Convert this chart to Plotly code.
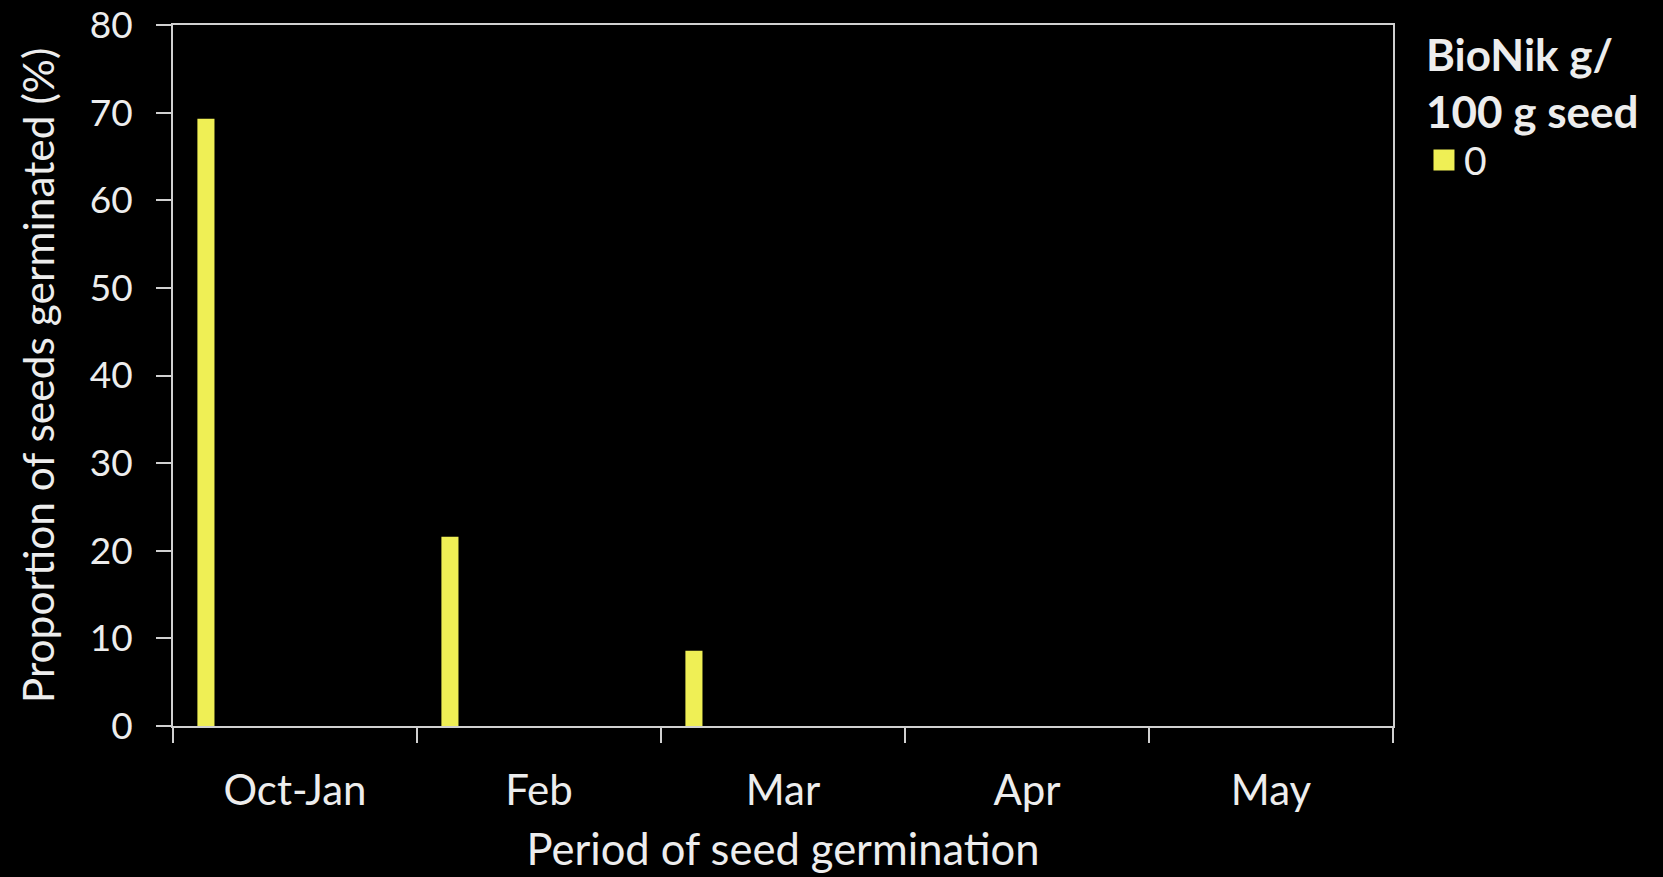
import plotly.graph_objects as go

# Germination periods and share of seeds germinated (%) for the untreated seed lot
periods = ["Oct-Jan", "Feb", "Mar", "Apr", "May"]
dose_label = "0"
germinated_pct = [69.3, 21.6, 8.6, 0.0, 0.0]
y_ticks = [0, 10, 20, 30, 40, 50, 60, 70, 80]

FONT = "Lato"
TEXT = "#EDEDED"
AXIS = "#D0D0D0"
BAR = "#EFEF55"

fig = go.Figure()
fig.add_trace(go.Bar(
    x=periods,
    y=germinated_pct,
    name=dose_label,
    marker=dict(color=BAR, line=dict(width=0)),
    width=0.07,
    offset=-0.4,
    showlegend=False,
    legendgroup="dose0",
))
# legend key for the bar series, drawn with a larger square swatch
fig.add_trace(go.Scatter(
    x=[None],
    y=[None],
    mode="markers",
    name=dose_label,
    legendgroup="dose0",
    marker=dict(symbol="square", size=16, color=BAR, line=dict(color=BAR, width=5)),
    hoverinfo="skip",
))

fig.update_layout(
    width=1663,
    height=877,
    paper_bgcolor="black",
    plot_bgcolor="black",
    margin=dict(l=173, r=270, t=25, b=151, autoexpand=False),
    font=dict(family=FONT, color=TEXT, size=40),
    showlegend=True,
    legend=dict(
        x=1.0254, xanchor="left",
        y=1.016, yanchor="top",
        title=dict(text="<b>BioNik g/<br>100 g seed</b>", font=dict(size=44, color=TEXT)),
        font=dict(size=39, color=TEXT),
        bgcolor="rgba(0,0,0,0)",
        itemsizing="trace",
        itemwidth=30,
        tracegroupgap=0,
    ),
    xaxis=dict(
        type="category",
        tickson="boundaries",
        ticks="outside",
        ticklen=15,
        tickcolor=AXIS,
        tickwidth=2,
        showline=True,
        linecolor=AXIS,
        linewidth=2,
        mirror=True,
        showgrid=False,
        ticklabelstandoff=27,
        tickfont=dict(size=42, color=TEXT),
        title=dict(text="Period of seed germination", font=dict(size=43.5, color=TEXT), standoff=21),
    ),
    yaxis=dict(
        range=[0, 80],
        tickvals=y_ticks,
        ticks="outside",
        ticklen=15,
        tickcolor=AXIS,
        tickwidth=2,
        showline=True,
        linecolor=AXIS,
        linewidth=2,
        mirror=True,
        showgrid=False,
        zeroline=False,
        ticklabelstandoff=16,
        ticklabeloverflow="allow",
        tickfont=dict(size=37, color=TEXT),
        title=dict(text="Proportion of seeds germinated (%)", font=dict(size=42.5, color=TEXT), standoff=22),
    ),
)

fig.write_html("out.html")
